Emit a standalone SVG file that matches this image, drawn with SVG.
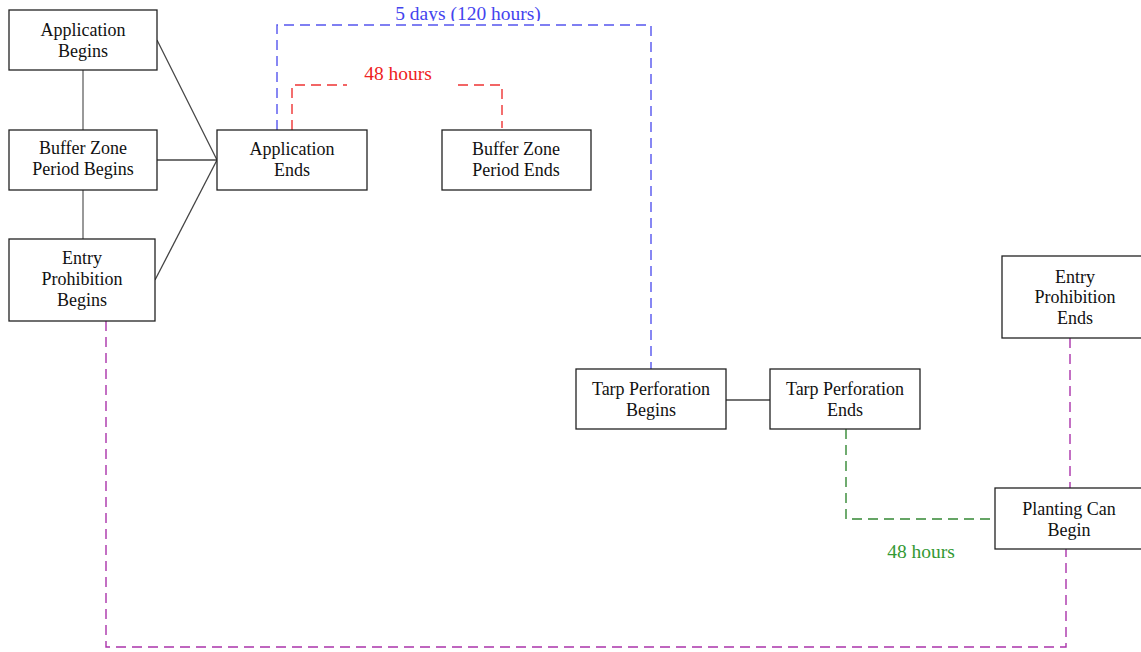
<svg xmlns="http://www.w3.org/2000/svg" width="1141" height="652" viewBox="0 0 1141 652">
<defs>
<style>
.box{fill:#fff;stroke:#222;stroke-width:1.3}
.t{font-family:"Liberation Serif","Times New Roman",serif;font-size:18px;fill:#111;text-anchor:middle}
.lbl{font-family:"Liberation Serif","Times New Roman",serif;font-size:19.5px;text-anchor:middle}
.solid{fill:none;stroke:#444;stroke-width:1.3}
.vert{fill:none;stroke:#777;stroke-width:1.5}
.dash{fill:none;stroke-width:1.4;stroke-dasharray:10,6}
</style>
<clipPath id="topclip"><rect x="0" y="0" width="1141" height="21"/></clipPath>
</defs>
<rect width="1141" height="652" fill="#fff"/>
<g id="connectors">
<line class="vert" x1="83" y1="70" x2="83" y2="130"/>
<line class="vert" x1="83" y1="190" x2="83" y2="239"/>
<line class="solid" x1="157" y1="40" x2="217" y2="160"/>
<line class="solid" x1="157" y1="160" x2="217" y2="160"/>
<line class="solid" x1="155" y1="280" x2="217" y2="160"/>
<line class="solid" x1="726" y1="400" x2="770" y2="400"/>
<polyline class="dash" stroke="#5555ee" points="277,130 277,25 651,25 651,369"/>
<polyline class="dash" stroke="#ee3333" points="292,130 292,85 347,85"/>
<polyline class="dash" stroke="#ee3333" points="458,85 502,85 502,128"/>
<polyline class="dash" stroke="#338833" points="846,429 846,519 995,519"/>
<polyline class="dash" stroke="#aa33aa" points="106,321 106,647 1066,647 1066,549"/>
<line class="dash" stroke="#aa33aa" x1="1070" y1="338" x2="1070" y2="488"/>
<text class="lbl" fill="#4444ee" x="468" y="20" clip-path="url(#topclip)">5 days (120 hours)</text>
<text class="lbl" fill="#ee2222" x="398" y="80">48 hours</text>
<text class="lbl" fill="#339933" x="921" y="558">48 hours</text>
</g>
<g id="app-begins"><rect class="box" x="9" y="10" width="148" height="60"/><text class="t" x="83" y="36">Application</text><text class="t" x="83" y="57">Begins</text></g>
<g id="buffer-begins"><rect class="box" x="9" y="130" width="148" height="60"/><text class="t" x="83" y="154">Buffer Zone</text><text class="t" x="83" y="175">Period Begins</text></g>
<g id="entry-begins"><rect class="box" x="9" y="239" width="146" height="82"/><text class="t" x="82" y="264">Entry</text><text class="t" x="82" y="285">Prohibition</text><text class="t" x="82" y="306">Begins</text></g>
<g id="app-ends"><rect class="box" x="217" y="130" width="150" height="60"/><text class="t" x="292" y="155">Application</text><text class="t" x="292" y="176">Ends</text></g>
<g id="buffer-ends"><rect class="box" x="442" y="130" width="149" height="60"/><text class="t" x="516" y="155">Buffer Zone</text><text class="t" x="516" y="176">Period Ends</text></g>
<g id="tarp-begins"><rect class="box" x="576" y="369" width="150" height="60"/><text class="t" x="651" y="395">Tarp Perforation</text><text class="t" x="651" y="416">Begins</text></g>
<g id="tarp-ends"><rect class="box" x="770" y="369" width="150" height="60"/><text class="t" x="845" y="395">Tarp Perforation</text><text class="t" x="845" y="416">Ends</text></g>
<g id="entry-ends"><rect class="box" x="1002" y="256" width="148" height="82"/><text class="t" x="1075" y="283">Entry</text><text class="t" x="1075" y="303">Prohibition</text><text class="t" x="1075" y="324">Ends</text></g>
<g id="planting"><rect class="box" x="995" y="488" width="148" height="61"/><text class="t" x="1069" y="515">Planting Can</text><text class="t" x="1069" y="536">Begin</text></g>
</svg>
